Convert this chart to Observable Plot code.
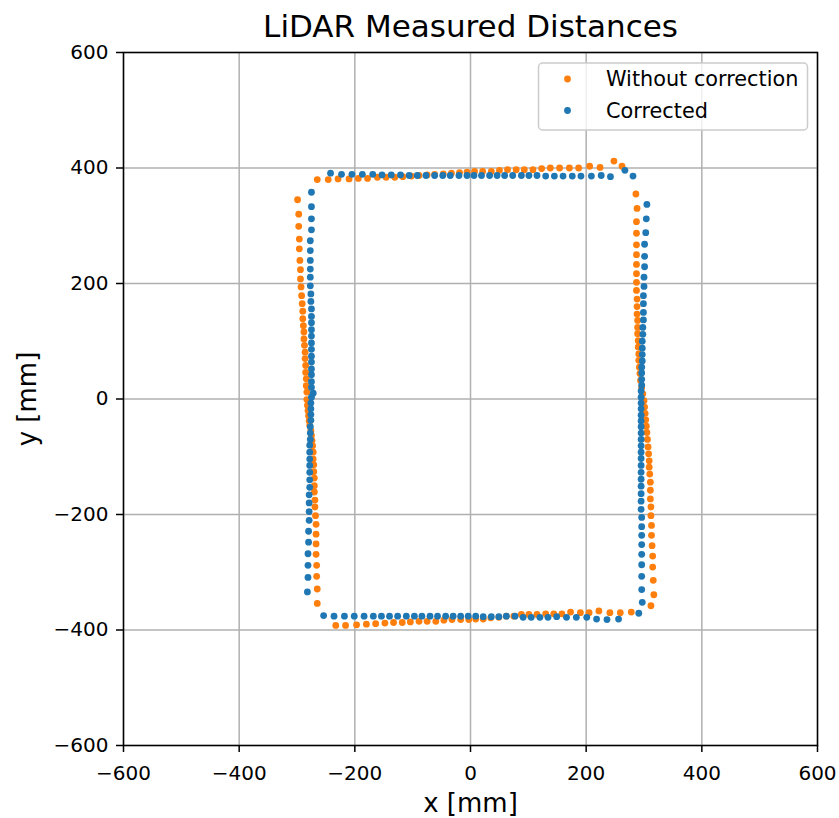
<!DOCTYPE html>
<html>
<head>
<meta charset="utf-8">
<script src="https://cdn.jsdelivr.net/npm/d3@7"></script>
<script src="https://cdn.jsdelivr.net/npm/@observablehq/plot@0.6"></script>
<style>
  html, body { margin: 0; padding: 0; background: white; }
  #chart { width: 839px; height: 818px; }
</style>
</head>
<body>
<div id="chart"></div>
<script>
const title = "LiDAR Measured Distances";
const xLabel = "x [mm]";
const yLabel = "y [mm]";
const seriesNames = ["Without correction", "Corrected"];
const seriesColors = ["#ff7f0e", "#1f77b4"];
const xTicks = [-600, -400, -200, 0, 200, 400, 600];
const yTicks = [-600, -400, -200, 0, 200, 400, 600];

// Without correction [x, y] in mm
const rawPoints = [
  // top
  [-265,380],[-246,380],[-229,381],[-210,381],[-194,382],[-178,382],[-161,384],[-146,384],[-131,384],[-117,385],
  [-102,386],[-89,387],[-75,388],[-62,389],[-47,390],[-33,391],[-19,392],[-6,393],[7,394],[21,394],
  [36,394],[50,396],[64,397],[79,397],[93,397],[108,397],[123,399],[138,400],[154,400],[171,400],
  [187,400],[206,403],[224,401],[248,412],[262,403],
  // right
  [286,355],[288,330],[287,307],[287,287],[287,267],[287,250],[287,233],[287,217],[287,202],[287,188],
  [288,173],[288,160],[288,147],[289,136],[289,124],[289,113],[290,101],[290,90],[291,78],[291,67],
  [292,55],[293,44],[294,32],[296,20],[298,9],[300,-3],[301,-14],[302,-25],[303,-36],[304,-47],
  [305,-58],[306,-70],[307,-83],[308,-95],[309,-107],[309,-118],[310,-130],[311,-144],[311,-158],[311,-173],
  [312,-187],[312,-202],[313,-219],[313,-236],[314,-254],[315,-272],[315,-291],[316,-314],[317,-339],[312,-358],
  // bottom
  [278,-369],[259,-370],[241,-370],[222,-367],[205,-370],[190,-370],[173,-369],[158,-372],[144,-372],[130,-372],
  [115,-373],[101,-373],[88,-373],[75,-376],[62,-376],[49,-378],[35,-379],[22,-381],[9,-381],[-3,-382],
  [-17,-382],[-32,-382],[-46,-383],[-60,-385],[-75,-385],[-89,-385],[-104,-386],[-118,-387],[-133,-387],[-148,-388],
  [-164,-389],[-180,-390],[-197,-391],[-216,-392],[-233,-392],
  // left
  [-265,-354],[-265,-329],[-266,-307],[-266,-288],[-267,-269],[-267,-251],[-267,-234],[-267,-217],[-268,-202],[-269,-187],
  [-269,-175],[-270,-161],[-270,-150],[-270,-137],[-271,-126],[-271,-114],[-272,-104],[-272,-92],[-273,-81],[-274,-72],
  [-275,-63],[-276,-55],[-278,-46],[-279,-38],[-280,-29],[-281,-20],[-282,-11],[-283,-1],[-283,12],[-284,23],
  [-284,35],[-285,46],[-285,58],[-286,70],[-286,81],[-287,93],[-288,104],[-288,116],[-289,127],[-290,139],
  [-290,152],[-291,165],[-292,179],[-293,194],[-294,208],[-294,224],[-295,240],[-296,260],[-296,277],[-297,299],
  [-297,320],[-299,345]
];

// Corrected [x, y] in mm
const correctedPoints = [
  // top
  [-242,391],[-223,389],[-205,389],[-187,389],[-169,389],[-153,388],[-137,388],[-121,388],[-106,387],[-92,387],
  [-77,387],[-62,387],[-48,387],[-35,387],[-20,387],[-6,387],[6,387],[19,387],[33,387],[46,387],
  [59,387],[73,387],[88,387],[101,387],[115,387],[130,386],[145,386],[160,386],[176,386],[191,386],
  [209,386],[226,387],[242,385],[267,396],[281,386],
  // right
  [305,337],[304,312],[303,288],[301,268],[301,247],[301,229],[300,211],[300,195],[299,179],[299,165],
  [299,150],[299,137],[298,124],[298,112],[297,100],[297,88],[297,77],[297,66],[296,55],[296,45],
  [296,34],[296,24],[295,14],[295,3],[295,-7],[295,-17],[295,-28],[295,-38],[295,-48],[295,-59],
  [295,-70],[295,-81],[295,-92],[295,-103],[295,-115],[295,-127],[295,-139],[295,-151],[295,-164],[295,-177],
  [295,-191],[296,-205],[296,-221],[296,-236],[296,-252],[296,-269],[296,-287],[296,-307],[296,-330],[297,-352],
  [291,-371],
  // bottom
  [256,-381],[236,-382],[218,-381],[201,-378],[183,-378],[166,-378],[149,-377],[134,-378],[120,-378],[105,-378],
  [91,-378],[77,-376],[62,-376],[49,-377],[36,-377],[22,-377],[9,-376],[-4,-376],[-17,-376],[-30,-376],
  [-43,-376],[-57,-376],[-70,-376],[-84,-376],[-97,-376],[-111,-376],[-126,-376],[-140,-376],[-154,-376],[-168,-376],
  [-184,-376],[-201,-376],[-218,-376],[-236,-376],[-254,-375],
  // left
  [-282,-334],[-281,-309],[-281,-288],[-281,-268],[-280,-248],[-280,-229],[-279,-210],[-279,-195],[-279,-180],[-279,-166],
  [-278,-153],[-278,-140],[-278,-127],[-278,-115],[-278,-104],[-278,-92],[-278,-80],[-277,-70],[-277,-59],[-277,-48],
  [-276,-37],[-276,-27],[-276,-17],[-276,-7],[-275,3],[-272,10],[-275,20],[-275,30],[-275,42],[-275,52],
  [-275,64],[-275,74],[-275,86],[-275,97],[-275,109],[-275,120],[-275,132],[-275,143],[-275,156],[-276,169],
  [-276,182],[-277,196],[-277,211],[-277,225],[-277,240],[-277,257],[-277,274],[-275,293],[-275,312],[-275,333],
  [-275,358]
];

const rawRows = rawPoints.map(([x, y]) => ({x, y, series: seriesNames[0]}));
const corrRows = correctedPoints.map(([x, y]) => ({x, y, series: seriesNames[1]}));

const fmt = d3.format("d");

const chart = Plot.plot({
  width: 839,
  height: 818,
  marginLeft: 123,
  marginRight: 22,
  marginTop: 52,
  marginBottom: 73,
  style: {fontFamily: "DejaVu Sans", fontSize: "20px", background: "white", color: "black"},
  x: {domain: [-600, 600]},
  y: {domain: [-600, 600]},
  marks: [
    Plot.gridX(xTicks, {stroke: "#b0b0b0", strokeOpacity: 1, strokeWidth: 1.5}),
    Plot.gridY(yTicks, {stroke: "#b0b0b0", strokeOpacity: 1, strokeWidth: 1.5}),
    Plot.dot(rawRows, {x: "x", y: "y", r: 3.4, fill: seriesColors[0]}),
    Plot.dot(corrRows, {x: "x", y: "y", r: 3.4, fill: seriesColors[1]}),
    Plot.frame({stroke: "black", strokeWidth: 1.5}),
    Plot.axisX(xTicks, {tickSize: 7, tickPadding: 13, tickFormat: fmt, fontSize: 20, label: null, strokeWidth: 1.5}),
    Plot.axisY(yTicks, {tickSize: 7, tickPadding: 8, tickFormat: fmt, fontSize: 20, label: null, strokeWidth: 1.5}),
    Plot.text([title], {text: d => d, frameAnchor: "top", lineAnchor: "middle", textAnchor: "middle", dy: -25, fontSize: 31}),
    Plot.text([xLabel], {text: d => d, frameAnchor: "bottom", lineAnchor: "middle", textAnchor: "middle", dy: 58, fontSize: 26}),
    Plot.text([yLabel], {text: d => d, frameAnchor: "left", lineAnchor: "middle", textAnchor: "middle", dx: -96, rotate: -90, fontSize: 26})
  ]
});

document.getElementById("chart").appendChild(chart);

// Legend (upper right inside the axes)
const svg = d3.select(chart);
const lg = svg.append("g")
  .attr("font-family", "DejaVu Sans")
  .attr("font-size", 20.8)
  .attr("text-anchor", "start");
lg.append("rect")
  .attr("x", 538.5).attr("y", 63).attr("width", 269).attr("height", 67)
  .attr("rx", 4).attr("fill", "white").attr("fill-opacity", 0.8)
  .attr("stroke", "#cccccc").attr("stroke-width", 1.5);
seriesNames.forEach((name, i) => {
  const cy = 79 + i * 31.5;
  lg.append("circle").attr("cx", 567.5).attr("cy", cy).attr("r", 3.4).attr("fill", seriesColors[i]);
  lg.append("text").attr("x", 606).attr("y", cy).attr("dy", "0.35em")
    .attr("text-anchor", "start").attr("fill", "black").text(name);
});
</script>
</body>
</html>
